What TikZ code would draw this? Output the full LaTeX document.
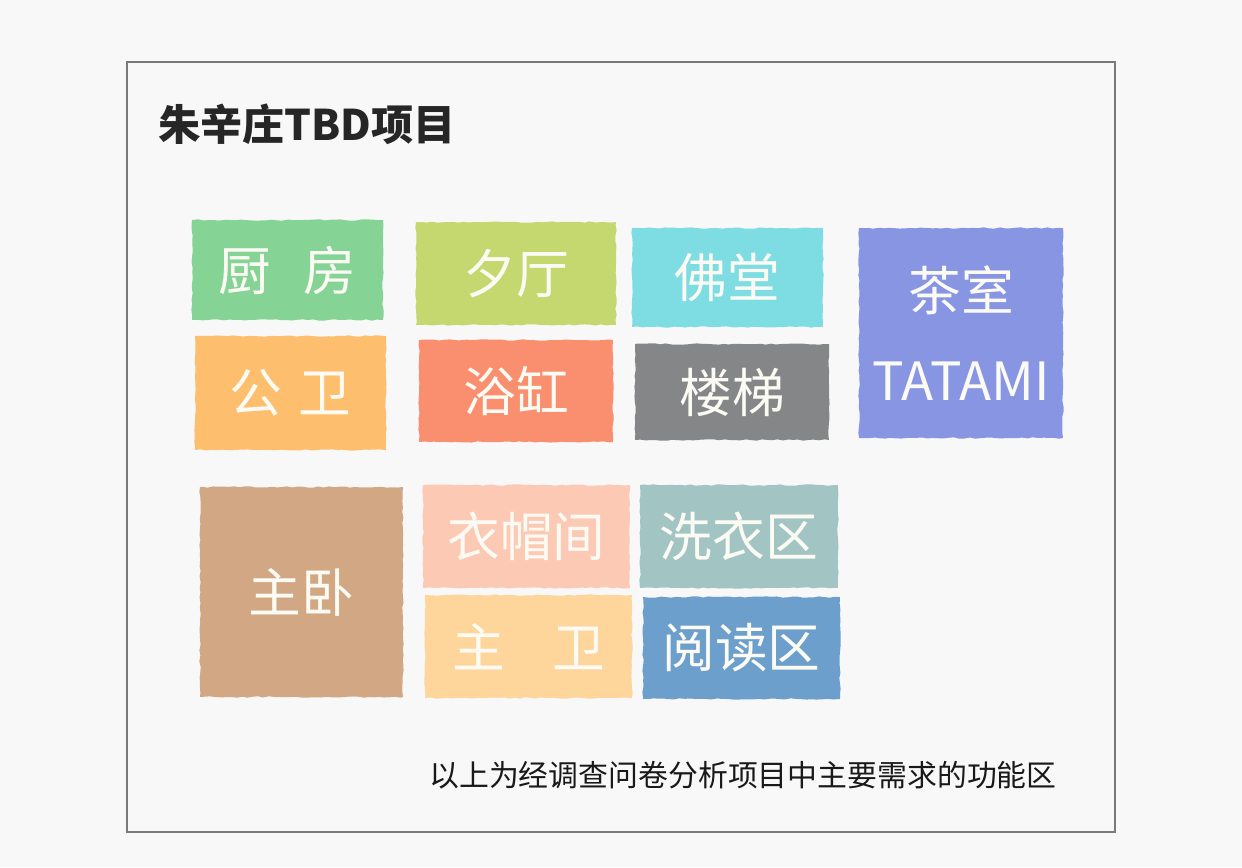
\documentclass[tikz,border=0pt]{standalone}
\usepackage{fontspec}
\usetikzlibrary{decorations.pathmorphing}
\newfontfamily\cjk{Noto Sans CJK SC}
\definecolor{bgc}{HTML}{F8F8F8}
\definecolor{framec}{HTML}{7A7A7A}
\definecolor{txtw}{HTML}{FBFBF4}
\definecolor{cKitchen}{HTML}{86D396}
\definecolor{cLiving}{HTML}{C5D870}
\definecolor{cBuddha}{HTML}{7DDDE3}
\definecolor{cTea}{HTML}{8795E3}
\definecolor{cPubBath}{HTML}{FDBF6E}
\definecolor{cTub}{HTML}{F98F6E}
\definecolor{cStair}{HTML}{858687}
\definecolor{cBed}{HTML}{D2A783}
\definecolor{cCloak}{HTML}{FCCAB4}
\definecolor{cLaundry}{HTML}{A2C5C3}
\definecolor{cMainBath}{HTML}{FED59B}
\definecolor{cRead}{HTML}{6D9FCC}
\tikzset{
  room/.style={fill=#1, inner sep=0pt, text=txtw, align=center,
    font=\cjk\fontsize{30}{35}\selectfont,
    decorate, decoration={random steps, segment length=3pt, amplitude=0.4pt}},
}
\begin{document}
\begin{tikzpicture}[x=0.02cm,y=-0.02cm]
\pgfmathsetseed{7}
\useasboundingbox (0,0) rectangle (1242,867);
\fill[bgc] (0,0) rectangle (1242,867);
\draw[framec, line width=0.8pt] (127,62) rectangle (1115,832);
\node[font=\cjk\bfseries\fontsize{24}{28}\selectfont, text=black!85] (title) at (307,124) {朱辛庄TBD项目};
\node[room=cKitchen, minimum width=3.82cm, minimum height=2.00cm] (kitchen) at (287.5,270) {厨\hspace{0.6em}房};
\node[room=cLiving, minimum width=4.00cm, minimum height=2.06cm] (living) at (516,273.5) {夕厅};
\node[room=cBuddha, minimum width=3.82cm, minimum height=1.98cm] (buddha) at (727.5,277.5) {佛堂};
\node[room=cTea, minimum width=4.08cm, minimum height=4.20cm] (tea) at (961,333) {茶室\\[16pt]TATAMI};
\node[room=cPubBath, minimum width=3.82cm, minimum height=2.28cm] (pubbath) at (290.5,393) {公\hspace{0.3em}卫};
\node[room=cTub, minimum width=3.88cm, minimum height=2.04cm] (tub) at (516,391) {浴缸};
\node[room=cStair, minimum width=3.88cm, minimum height=1.92cm] (stair) at (732,392) {楼梯};
\node[room=cBed, minimum width=4.06cm, minimum height=4.20cm] (bed) at (301.5,592) {主卧};
\node[room=cCloak, minimum width=4.14cm, minimum height=2.06cm] (cloak) at (526.5,536.5) {衣帽间};
\node[room=cLaundry, minimum width=3.96cm, minimum height=2.06cm] (laundry) at (739,536.5) {洗衣区};
\node[room=cMainBath, minimum width=4.14cm, minimum height=2.06cm] (mainbath) at (528.5,646.5) {主\hspace{0.9em}卫};
\node[room=cRead, minimum width=3.94cm, minimum height=2.04cm] (read) at (741.5,648) {阅读区};
\node[font=\cjk\fontsize{17}{20}\selectfont, text=black!90] (note) at (743,775) {以上为经调查问卷分析项目中主要需求的功能区};
\end{tikzpicture}
\end{document}
